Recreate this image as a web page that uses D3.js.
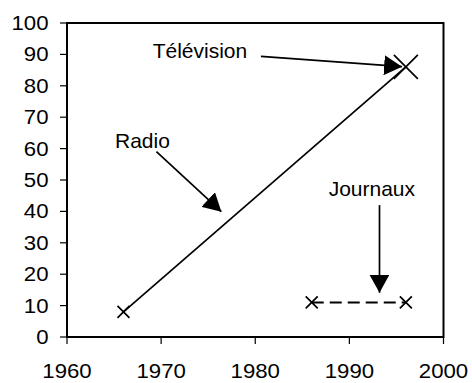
<!DOCTYPE html>
<html>
<head>
<meta charset="utf-8">
<script src="https://cdn.jsdelivr.net/npm/d3@7"></script>
<style>
  html, body { margin: 0; padding: 0; background: #fff; }
  svg { display: block; font-family: "Liberation Sans", Arial, sans-serif; }
</style>
</head>
<body>
<svg id="chart" width="472" height="383"></svg>
<script>
// Audience series (year, percentage)
const radioYears = [1966, 1996];
const radioValues = [8, 86];
const tvYears = [1996];
const tvValues = [86];
const journauxYears = [1986, 1996];
const journauxValues = [11, 11];

// Axis ticks
const xTicks = [1960, 1970, 1980, 1990, 2000];
const yTicks = [0, 10, 20, 30, 40, 50, 60, 70, 80, 90, 100];

// Callouts: label text, label anchor, arrow start and arrow tip (data units)
const calloutLabels = ["Télévision", "Radio", "Journaux"];
const calloutTextPos = [[1969.1, 89.0], [1965.1, 60.1], [1987.8, 44.9]];
const calloutFrom = [[1980.6, 89.4], [1969.5, 59.0], [1993.2, 42.0]];
const calloutTo = [[1995.6, 86.1], [1976.4, 39.9], [1993.2, 14.1]];

const svg = d3.select("#chart");
const x = d3.scaleLinear().domain([1960, 2000]).range([67, 443.5]);
const y = d3.scaleLinear().domain([0, 100]).range([337, 23]);

// arrowhead
svg.append("defs").append("marker")
  .attr("id", "head")
  .attr("viewBox", "0 0 18 20")
  .attr("refX", 18).attr("refY", 10)
  .attr("markerWidth", 18).attr("markerHeight", 20)
  .attr("markerUnits", "userSpaceOnUse")
  .attr("orient", "auto")
  .append("path").attr("d", "M0,0 L18,10 L0,20 Z").attr("fill", "#000");

// plot frame
svg.append("rect")
  .attr("x", x(1960)).attr("y", y(100))
  .attr("width", x(2000) - x(1960)).attr("height", y(0) - y(100))
  .attr("fill", "none").attr("stroke", "#000").attr("stroke-width", 2);

// y ticks and labels
const yg = svg.append("g").selectAll("g").data(yTicks).join("g")
  .attr("transform", d => `translate(0,${y(d)})`);
yg.append("line").attr("x1", x(1960) - 7).attr("x2", x(1960))
  .attr("stroke", "#000").attr("stroke-width", 1.2);
yg.append("text")
  .attr("transform", "translate(48.5,0) scale(1.15,1)")
  .attr("text-anchor", "end").attr("dy", "0.36em")
  .attr("font-size", 19.3).attr("fill", "#000")
  .text(d => d);

// x ticks and labels
const xg = svg.append("g").selectAll("g").data(xTicks).join("g")
  .attr("transform", d => `translate(${x(d)},0)`);
xg.append("line").attr("y1", y(0)).attr("y2", y(0) + 7)
  .attr("stroke", "#000").attr("stroke-width", 1.2);
xg.append("text")
  .attr("transform", "translate(0,377.5) scale(1.15,1)")
  .attr("text-anchor", "middle")
  .attr("font-size", 19.3).attr("fill", "#000")
  .text(d => d);

// series lines
const line = d3.line().x(d => x(d[0])).y(d => y(d[1]));
const radio = d3.zip(radioYears, radioValues);
const journaux = d3.zip(journauxYears, journauxValues);
const tv = d3.zip(tvYears, tvValues);

svg.append("path").attr("d", line(radio))
  .attr("fill", "none").attr("stroke", "#000").attr("stroke-width", 1.7);
svg.append("path").attr("d", line(journaux))
  .attr("fill", "none").attr("stroke", "#000").attr("stroke-width", 2)
  .attr("stroke-dasharray", "12,6");

// cross markers
function crosses(data, half, width) {
  svg.append("g").selectAll("path").data(data).join("path")
    .attr("d", d => {
      const cx = x(d[0]), cy = y(d[1]);
      return `M${cx - half},${cy - half}L${cx + half},${cy + half}M${cx - half},${cy + half}L${cx + half},${cy - half}`;
    })
    .attr("stroke", "#000").attr("stroke-width", width).attr("fill", "none");
}
crosses(radio.slice(0, 1), 6, 1.7);
crosses(journaux, 6, 1.7);
crosses(tv, 12, 1.7);

// callout arrows and labels
calloutLabels.forEach((label, i) => {
  svg.append("line")
    .attr("x1", x(calloutFrom[i][0])).attr("y1", y(calloutFrom[i][1]))
    .attr("x2", x(calloutTo[i][0])).attr("y2", y(calloutTo[i][1]))
    .attr("stroke", "#000").attr("stroke-width", 1.7)
    .attr("marker-end", "url(#head)");
  svg.append("text")
    .attr("x", x(calloutTextPos[i][0])).attr("y", y(calloutTextPos[i][1]))
    .attr("font-size", 21).attr("fill", "#000")
    .text(label);
});
</script>
</body>
</html>
